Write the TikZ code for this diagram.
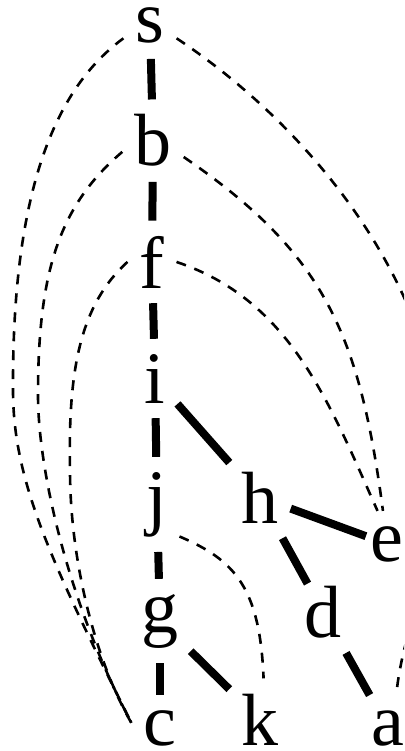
\documentclass[tikz,border=0pt]{standalone}
\usepackage{fontspec}
\setmainfont{Liberation Serif}
\begin{document}
\begin{tikzpicture}[x=1pt,y=-1pt,
  lbl/.style={anchor=base,font=\fontsize{74}{80}\selectfont,inner xsep=12pt,inner ysep=15pt},
  tree/.style={line width=8pt},
  back/.style={line width=2.6pt,dash pattern=on 10pt off 9pt}]
\useasboundingbox (0,0) rectangle (404,751);
\clip (0,0) rectangle (404,751);
\node[lbl] (s) at (150,43) {s};
\node[lbl] (b) at (153,166) {b};
\node[lbl] (f) at (152,288) {f};
\node[lbl] (i) at (155,403) {i};
\node[lbl] (j) at (157,521) {j};
\node[lbl] (h) at (260,523) {h};
\node[lbl] (e) at (387,561) {e};
\node[lbl] (g) at (160,632) {g};
\node[lbl] (d) at (323,637) {d};
\node[lbl] (c) at (160,745) {c};
\node[lbl] (k) at (260,745) {k};
\node[lbl] (a) at (388,745) {a};
% tree edges
\draw[tree] (s) -- (b);
\draw[tree] (b) -- (f);
\draw[tree] (f) -- (i);
\draw[tree] (i) -- (j);
\draw[tree] (j) -- (g);
\draw[tree] (g) -- (c);
\draw[tree] (i) -- (h);
\draw[tree,shorten >=-8pt] (h) -- (e);
\draw[tree,shorten >=-15pt] (h) -- (d);
\draw[tree] (d) -- (a);
\draw[tree] (g) -- (k);
% back edges
\draw[back] (s.205) .. controls (60,85) and (12,180) .. (13,390) .. controls (13,480) and (50,560) .. (c.170);
\draw[back] (b.200) .. controls (60,205) and (38,270) .. (38,395) .. controls (38,470) and (68,603) .. (c.170);
\draw[back] (f.west) .. controls (80,305) and (68,370) .. (70,470) .. controls (70,560) and (95,660) .. (c.170);
\draw[back] (s.-25) .. controls (300,120) and (445,280) .. (445,480) .. controls (445,560) and (405,610) .. (a.76);
\draw[back] (b.-28) .. controls (324,253) and (359.6,333) .. (e.97);
\draw[back] (f.east) .. controls (290,300) and (328.5,401) .. (e.106);
\draw[back] (j.-55) .. controls (235,560) and (260,588) .. (k.85);
\end{tikzpicture}
\end{document}
